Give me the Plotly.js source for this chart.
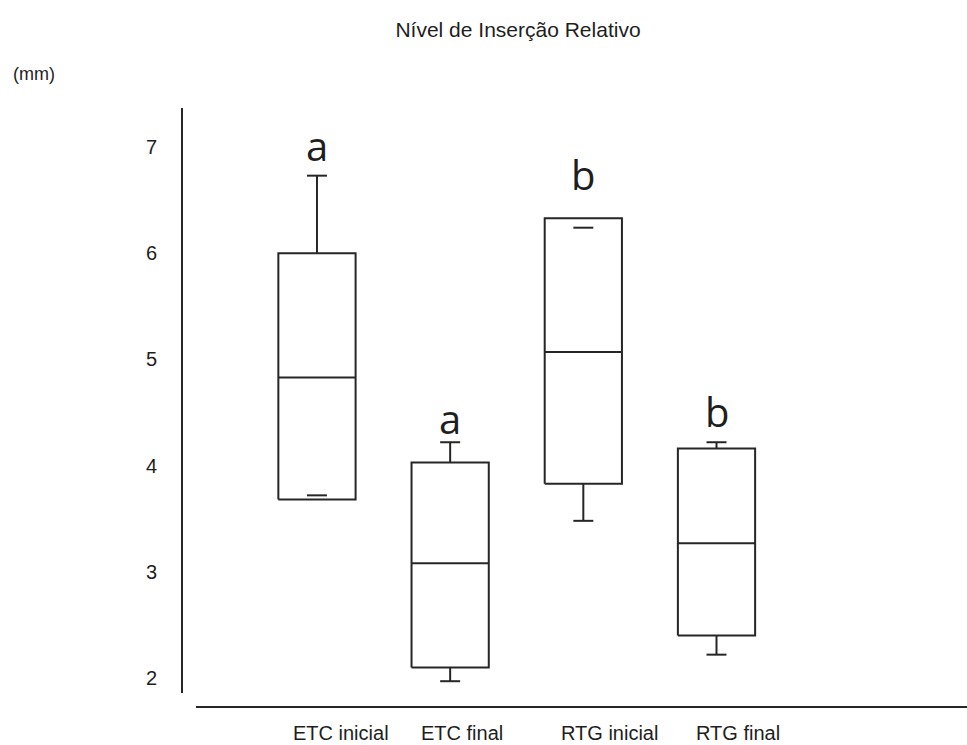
<!DOCTYPE html>
<html>
<head>
<meta charset="utf-8">
<script src="https://cdn.plot.ly/plotly-3.0.1.min.js"></script>
<style>html,body{margin:0;padding:0;background:#fff;}#chart{width:967px;height:745px;}</style>
</head>
<body>
<div id="chart"></div>
<script>
const categories = ['ETC inicial', 'ETC final', 'RTG inicial', 'RTG final'];
const q1 = [3.68, 2.10, 3.83, 2.40];
const median = [4.83, 3.08, 5.07, 3.27];
const q3 = [6.00, 4.03, 6.33, 4.16];
const whiskerLow = [3.72, 1.97, 3.48, 2.22];
const whiskerHigh = [6.73, 4.22, 6.24, 4.22];
const letters = ['a', 'a', 'b', 'b'];
const letterY = [7.01, 4.44, 6.74, 4.51];
const yTicks = [2, 3, 4, 5, 6, 7];

const HW = 0.29;   // half box width (category units)
const CW = 0.075;  // half cap width
const lineStyle = {color: '#262626', width: 2};

const bx = [], by = [];
categories.forEach((c, i) => {
  bx.push(i - HW, i + HW, i + HW, i - HW, i - HW, null);
  by.push(q1[i], q1[i], q3[i], q3[i], q1[i], null);
  bx.push(i - HW, i + HW, null);
  by.push(median[i], median[i], null);
  if (whiskerHigh[i] > q3[i]) { bx.push(i, i, null); by.push(q3[i], whiskerHigh[i], null); }
  if (whiskerLow[i] < q1[i]) { bx.push(i, i, null); by.push(q1[i], whiskerLow[i], null); }
  bx.push(i - CW, i + CW, null); by.push(whiskerHigh[i], whiskerHigh[i], null);
  bx.push(i - CW, i + CW, null); by.push(whiskerLow[i], whiskerLow[i], null);
});

const traces = [{
  type: 'scatter', mode: 'lines', x: bx, y: by,
  line: lineStyle, hoverinfo: 'skip', showlegend: false, connectgaps: false
}];

const txtFont = {family: 'Liberation Sans, Arial, sans-serif', size: 20, color: '#1e1e1e'};
const annotations = [];
categories.forEach((c, i) => {
  annotations.push({
    x: i, y: letterY[i], xref: 'x', yref: 'y', text: letters[i], showarrow: false,
    xanchor: 'center', yanchor: 'middle',
    font: {family: 'Open Sans, DejaVu Sans, sans-serif', size: 40, color: '#1e1e1e'}
  });
  annotations.push({
    x: i, y: -0.0684, xref: 'x', yref: 'paper', text: c, showarrow: false,
    xanchor: 'center', yanchor: 'middle', xshift: [24, 12, 26, 21][i],
    font: txtFont
  });
});
annotations.push({
  x: (34 - 183) / 784, y: (693 - 74) / 585, xref: 'paper', yref: 'paper', text: '(mm)', showarrow: false,
  xanchor: 'center', yanchor: 'middle', font: {family: txtFont.family, size: 18, color: '#1e1e1e'}
});

const layout = {
  width: 967, height: 745,
  margin: {l: 183, r: 0, t: 108, b: 52},
  paper_bgcolor: '#ffffff', plot_bgcolor: '#ffffff',
  title: {
    text: 'Nível de Inserção Relativo',
    x: 518 / 967, xanchor: 'center', xref: 'container',
    y: 1 - 30 / 745, yanchor: 'middle', yref: 'container',
    font: {family: txtFont.family, size: 21, color: '#1e1e1e'}
  },
  xaxis: {
    range: [-1.006, 4.881], showgrid: false, zeroline: false, showline: false,
    showticklabels: false, ticks: ''
  },
  yaxis: {
    range: [1.859, 7.367], tickvals: yTicks, ticktext: yTicks.map(String),
    showgrid: false, zeroline: false, showline: true, linecolor: '#262626', linewidth: 2,
    ticks: '', ticklabelstandoff: 20, tickfont: txtFont
  },
  shapes: [{
    type: 'line', xref: 'paper', yref: 'paper',
    x0: 13 / 784, x1: 1, y0: -14 / 585, y1: -14 / 585,
    line: lineStyle
  }],
  annotations: annotations,
  showlegend: false
};

Plotly.newPlot('chart', traces, layout, {displayModeBar: false, staticPlot: true});
</script>
</body>
</html>
